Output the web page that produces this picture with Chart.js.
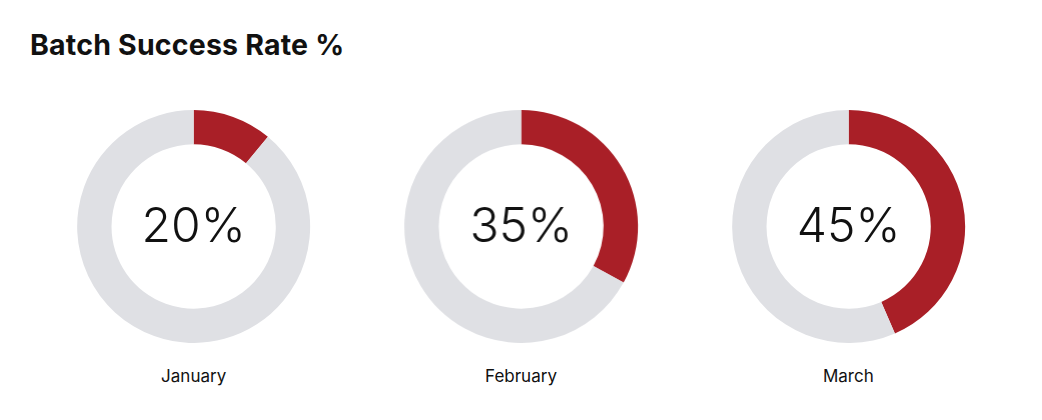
<!DOCTYPE html>
<html>
<head>
<meta charset="utf-8">
<script src="https://cdn.jsdelivr.net/npm/chart.js@4/dist/chart.umd.min.js"></script>
<style>
    body { margin: 0; background: #fff; font-family: Inter, "Noto Sans", sans-serif; }
    h1 { position: absolute; left: 30px; top: 27px; margin: 0; font-size: 28.5px; font-weight: 700; color: #111; letter-spacing: 0.2px; }
    .row { position: absolute; left: 30px; top: 110px; width: 982px; display: flex; }
    .col { width: 327.33px; text-align: center; }
    .box { position: relative; height: 233px; }
    .lbl { margin-top: 23px; font-size: 17px; color: #111; }
</style>
</head>
<body>
<h1>Batch Success Rate %</h1>
<div class="row">
    <div class="col"><div class="box"><canvas id="c0"></canvas></div><div class="lbl" id="l0"></div></div>
    <div class="col"><div class="box"><canvas id="c1"></canvas></div><div class="lbl" id="l1"></div></div>
    <div class="col"><div class="box"><canvas id="c2"></canvas></div><div class="lbl" id="l2"></div></div>
</div>
<script>
const months = ["January", "February", "March"];
const centerLabels = ["20%", "35%", "45%"];
// arc sizes as drawn in the picture
const successValues = [11, 33, 43.5];

const red = "#A91F27";
const grey = "#DFE0E4";

const centerText = {
    id: "centerText",
    afterDraw(chart, args, opts) {
        const c = chart.ctx;
        const arc = chart.getDatasetMeta(0).data[0];
        c.save();
        c.font = "300 48px Inter, sans-serif";
        c.fillStyle = "#111";
        c.textAlign = "center";
        c.textBaseline = "middle";
        c.fillText(opts.text, arc.x, arc.y + 1);
        c.restore();
    }
};

months.forEach((m, i) => {
    document.getElementById("l" + i).textContent = m;
    let ctx = document.getElementById("c" + i).getContext("2d");
    new Chart(ctx, {
        type: "doughnut",
        data: {
            labels: ["Success", "Other"],
            datasets: [{
                data: [successValues[i], 100 - successValues[i]],
                backgroundColor: [red, grey],
                borderWidth: 0,
            }],
        },
        options: {
            responsive: true,
            maintainAspectRatio: false,
            animation: false,
            cutout: "70.5%",
            plugins: {
                legend: { display: false },
                tooltip: { enabled: false },
                centerText: { text: centerLabels[i] },
            },
        },
        plugins: [centerText],
    });
});
</script>
</body>
</html>
